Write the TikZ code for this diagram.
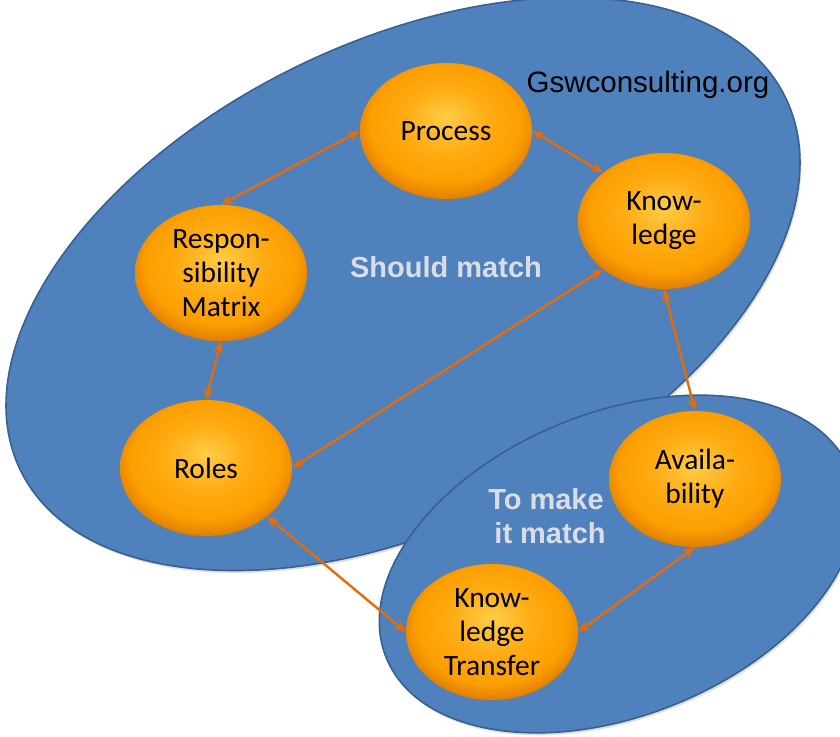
\documentclass[tikz,border=0pt]{standalone}
\usepackage{fontspec}
\setmainfont{Carlito}
\newfontfamily\arialfont{Liberation Sans}
\usetikzlibrary{shapes.geometric,arrows.meta,shadows}
\definecolor{blueA}{RGB}{79,129,189}
\definecolor{blueEdge}{RGB}{56,96,146}
\definecolor{arrowC}{RGB}{228,108,10}
\definecolor{lightT}{RGB}{218,222,228}
\definecolor{orbA}{RGB}{255,205,70}
\definecolor{orbB}{RGB}{255,172,20}
\definecolor{orbC}{RGB}{252,158,0}
\definecolor{orbD}{RGB}{226,128,0}
\definecolor{orbE}{RGB}{190,104,0}
\pgfdeclareradialshading{orb}{\pgfpoint{0bp}{5bp}}{color(0bp)=(orbA);color(12bp)=(orbB);color(22bp)=(orbC);color(27bp)=(orbD);color(30bp)=(orbE);color(50bp)=(orbE)}
\tikzset{
  group/.style={ellipse, fill=blueA, draw=blueEdge, line width=1.6pt,
    drop shadow={opacity=0.25, shadow xshift=1.5pt, shadow yshift=-2.5pt}},
  orbnode/.style={ellipse, minimum width=172pt, minimum height=136pt, inner sep=0pt,
    shading=orb, align=center, font=\fontsize{29.5}{34}\selectfont,
    drop shadow={opacity=0.3, shadow xshift=1.5pt, shadow yshift=-2.5pt}},
  link/.style={draw=arrowC, line width=2.4pt,
    {Stealth[length=12pt,width=10pt]}-{Stealth[length=12pt,width=10pt]}},
  hint/.style={text=lightT, font=\arialfont\bfseries\fontsize{29}{34}\selectfont, align=center}
}
\begin{document}
\begin{tikzpicture}[x=1pt,y=1pt]
\useasboundingbox (0,0) rectangle (840,-736);
\fill[white] (0,0) rectangle (840,-736);
% group ellipses
\begin{scope}
\clip (0,0) rectangle (840,-736);
\node[group, minimum width=851pt, minimum height=484pt, rotate=26] (big) at (403,-284) {};
\node[group, minimum width=500pt, minimum height=303pt, rotate=22] (small) at (618,-564) {};
\end{scope}
% labels
\node[font=\arialfont\fontsize{29.5}{34}\selectfont] (site) at (648,-85) {Gswconsulting.org};
\node[hint] (should) at (446,-267) {Should match};
\node[hint] (tomake) at (546,-516) {To make\\\ it match};
% orbs
\node[orbnode] (proc) at (446,-131) {Process};
\node[orbnode] (know) at (664,-221) {Know-\\ledge};
\node[orbnode] (resp) at (221,-273) {Respon-\\sibility\\Matrix};
\node[orbnode] (roles) at (206,-468) {Roles};
\node[orbnode] (avail) at (695,-479) {Availa-\\bility};
\node[orbnode] (kt) at (492,-632) {Know-\\ledge\\Transfer};
% links
\draw[link] (resp.north) -- (proc.west);
\draw[link] (proc.east) -- (know.north west);
\draw[link] (resp.south) -- (roles.north);
\draw[link] (know.south west) -- (roles.east);
\draw[link] (know.south) -- (avail.north);
\draw[link] (roles.south east) -- (kt.west);
\draw[link] (kt.east) -- (avail.south);
\end{tikzpicture}
\end{document}
